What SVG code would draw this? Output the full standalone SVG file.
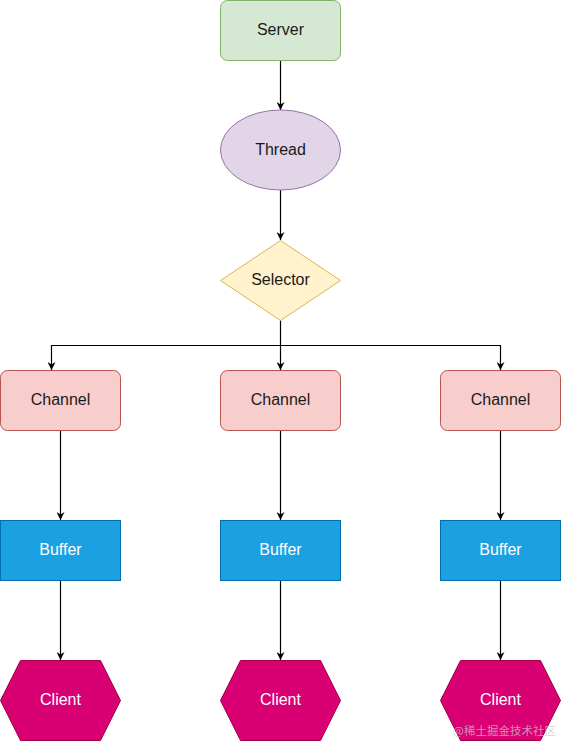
<svg xmlns="http://www.w3.org/2000/svg" width="561" height="741" viewBox="0 0 561 741">
<defs>
<style>
.lbl{font-family:"Liberation Sans",Arial,Helvetica,sans-serif;font-size:16px;text-anchor:middle;dominant-baseline:central;fill:#1a1a1a}
.wl{fill:#ffffff}
.edge{fill:none;stroke:#000;stroke-width:1.2}
</style>
<marker id="arr" viewBox="0 0 10 10" refX="10" refY="5" markerWidth="8" markerHeight="8" markerUnits="userSpaceOnUse" orient="auto">
<path d="M0,0 L10,5 L0,10 L3,5 Z" fill="#000"/>
</marker>
</defs>
<rect width="561" height="741" fill="#fff"/>
<g id="connectors">
<path class="edge" d="M280.5,60.5 V110" marker-end="url(#arr)"/>
<path class="edge" d="M280.5,190 V240" marker-end="url(#arr)"/>
<path class="edge" d="M280.5,320 V370" marker-end="url(#arr)"/>
<path class="edge" d="M280.5,345.5 H51.5 V370" marker-end="url(#arr)"/>
<path class="edge" d="M280.5,345.5 H500.5 V370" marker-end="url(#arr)"/>
<path class="edge" d="M60.5,430 V520" marker-end="url(#arr)"/>
<path class="edge" d="M280.5,430 V520" marker-end="url(#arr)"/>
<path class="edge" d="M500.5,430 V520" marker-end="url(#arr)"/>
<path class="edge" d="M60.5,580 V660" marker-end="url(#arr)"/>
<path class="edge" d="M280.5,580 V660" marker-end="url(#arr)"/>
<path class="edge" d="M500.5,580 V660" marker-end="url(#arr)"/>
</g>
<g id="server">
<rect x="220.5" y="0.5" width="120" height="60" rx="7" fill="#d5e8d4" stroke="#82b366"/>
<text class="lbl" x="280.5" y="29.5">Server</text>
</g>
<g id="thread">
<ellipse cx="280.5" cy="150" rx="60" ry="40" fill="#e1d5e7" stroke="#9673a6"/>
<text class="lbl" x="280.5" y="149">Thread</text>
</g>
<g id="selector">
<polygon points="280.5,240.5 340.5,280.5 280.5,320.5 220.5,280.5" fill="#fff2cc" stroke="#d6b656"/>
<text class="lbl" x="280.5" y="279.5">Selector</text>
</g>
<g id="channel1">
<rect x="0.5" y="370.5" width="120" height="60" rx="7" fill="#f8cecc" stroke="#b85450"/>
<text class="lbl" x="60.5" y="399.5">Channel</text>
</g>
<g id="channel2">
<rect x="220.5" y="370.5" width="120" height="60" rx="7" fill="#f8cecc" stroke="#b85450"/>
<text class="lbl" x="280.5" y="399.5">Channel</text>
</g>
<g id="channel3">
<rect x="440.5" y="370.5" width="120" height="60" rx="7" fill="#f8cecc" stroke="#b85450"/>
<text class="lbl" x="500.5" y="399.5">Channel</text>
</g>
<g id="buffer1">
<rect x="0.5" y="520.5" width="120" height="60" fill="#1ba1e2" stroke="#006eaf"/>
<text class="lbl wl" x="60.5" y="549.5">Buffer</text>
</g>
<g id="buffer2">
<rect x="220.5" y="520.5" width="120" height="60" fill="#1ba1e2" stroke="#006eaf"/>
<text class="lbl wl" x="280.5" y="549.5">Buffer</text>
</g>
<g id="buffer3">
<rect x="440.5" y="520.5" width="120" height="60" fill="#1ba1e2" stroke="#006eaf"/>
<text class="lbl wl" x="500.5" y="549.5">Buffer</text>
</g>
<g id="client1">
<polygon points="0.5,700.5 20.5,660.5 100.5,660.5 120.5,700.5 100.5,740.5 20.5,740.5" fill="#d80073" stroke="#a50040"/>
<text class="lbl wl" x="60.5" y="699.5">Client</text>
</g>
<g id="client2">
<polygon points="220.5,700.5 240.5,660.5 320.5,660.5 340.5,700.5 320.5,740.5 240.5,740.5" fill="#d80073" stroke="#a50040"/>
<text class="lbl wl" x="280.5" y="699.5">Client</text>
</g>
<g id="client3">
<polygon points="440.5,700.5 460.5,660.5 540.5,660.5 560.5,700.5 540.5,740.5 460.5,740.5" fill="#d80073" stroke="#a50040"/>
<text class="lbl wl" x="500.5" y="699.5">Client</text>
</g>
<text x="453" y="735" font-family="'Noto Sans CJK SC',sans-serif" font-size="11.5" fill="#c8c8c8" fill-opacity="0.75">@稀土掘金技术社区</text>
</svg>
